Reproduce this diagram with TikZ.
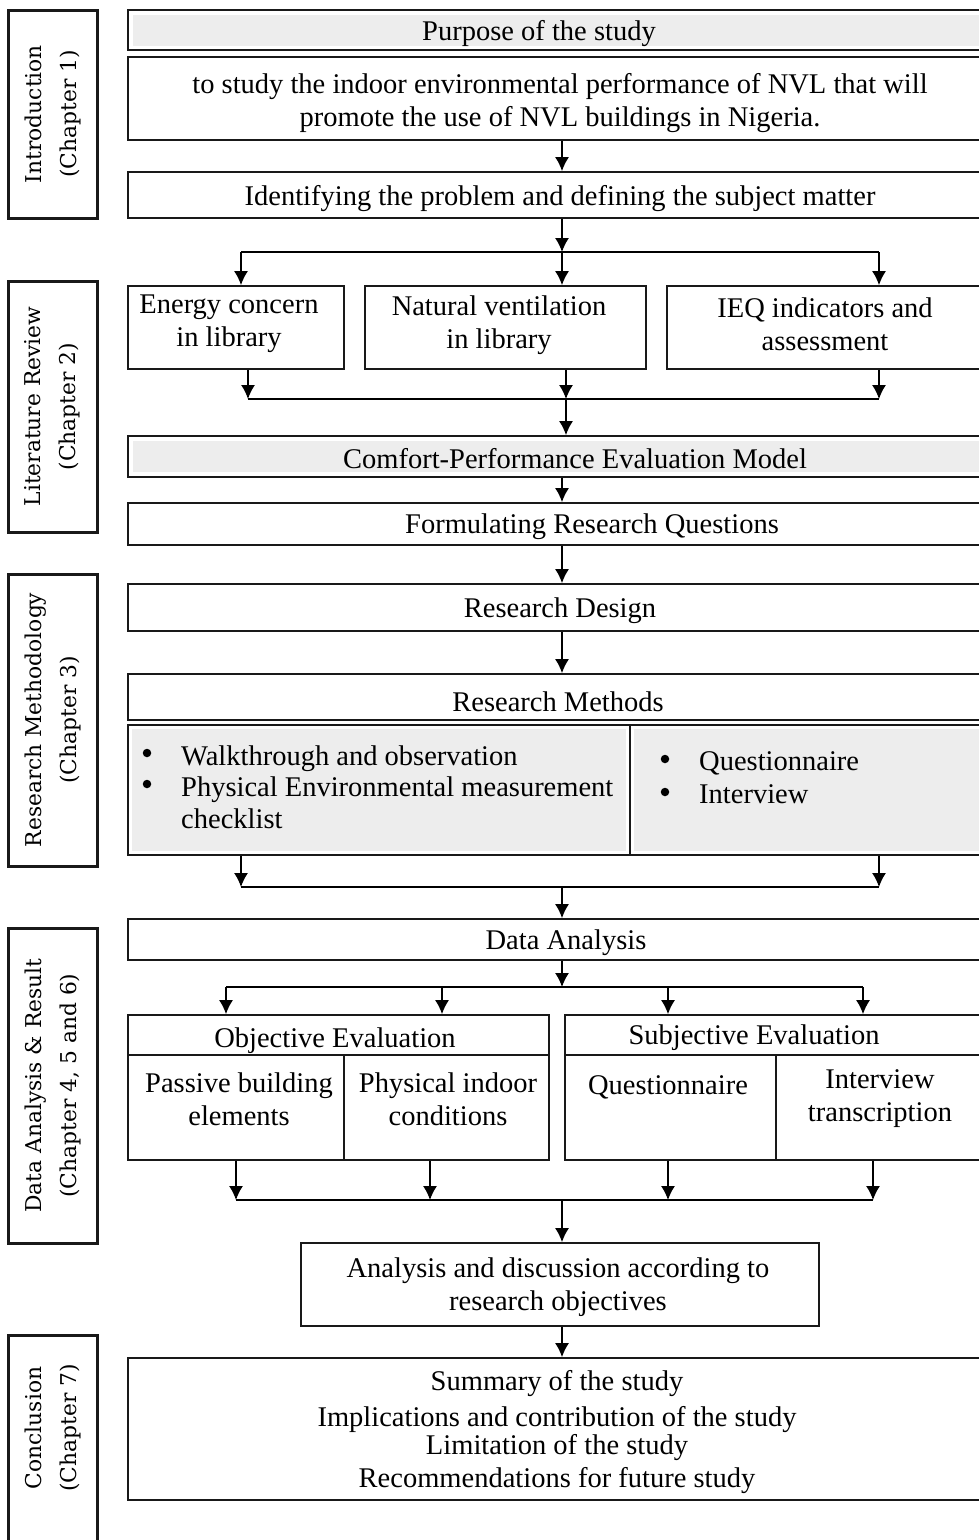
\documentclass[tikz,border=0pt]{standalone}
\usepackage{fontspec}
\setmainfont{Liberation Serif}
\newfontfamily\sidefont{DejaVu Serif}
\usetikzlibrary{arrows.meta,calc}
\begin{document}
\begin{tikzpicture}[x=1pt,y=-1pt,
  box/.style={draw=black!90, line width=1.8pt, inner sep=0pt, rectangle},
  sidebox/.style={draw=black!90, line width=3pt, inner sep=0pt, rectangle, minimum width=89},
  sidetxt/.style={rotate=90, font=\sidefont\fontsize{21.8}{35}\selectfont, align=center, inner sep=0pt},
  txt/.style={font=\fontsize{28.5}{33}\selectfont, align=center, inner sep=0pt, yshift=-3pt},
  bul/.style={circle, fill=black, inner sep=0pt, minimum size=8.5pt},
  arr/.style={line width=1.4pt, -{Latex[length=14pt,width=14pt]}},
  ln/.style={line width=1.4pt},
  band/.style={fill=black!7, draw=none}]
\useasboundingbox (0,0) rectangle (979,1540);
\clip (0,0) rectangle (979,1540);
\fill[white] (0,0) rectangle (979,1540);

% side boxes
\node[sidebox, minimum height=208] (intro) at (52.5,114) {};
\node[sidebox, minimum height=251] (lit) at (52.5,406.5) {};
\node[sidebox, minimum height=292] (meth) at (52.5,720) {};
\node[sidebox, minimum height=315] (data) at (52.5,1085.5) {};
\node[sidebox, minimum height=225] (concl) at (52.5,1447.5) {};
\node[sidetxt] (introT) at (intro.center) {Introduction\\(Chapter 1)};
\node[sidetxt] (litT) at (lit.center) {Literature Review\\(Chapter 2)};
\node[sidetxt] (methT) at (meth.center) {Research Methodology\\(Chapter 3)};
\node[sidetxt] (dataT) at (data.center) {Data Analysis \& Result\\(Chapter 4, 5 and 6)};
\node[sidetxt] (conclT) at (52.5,1428) {Conclusion\\(Chapter 7)};

% main boxes
\node[box, minimum width=864, minimum height=40] (purpose) at (560,30) {};
\fill[band] ($(purpose.north west)+(6,6)$) rectangle ($(purpose.south east)+(-6,-5)$);
\node[txt] (purposeT) at (539,31) {Purpose of the study};

\node[box, minimum width=864, minimum height=83] (p2) at (560,98.5) {};
\node[txt] (p2T) at (560,100) {to study the indoor environmental performance of NVL that will\\promote the use of NVL buildings in Nigeria.};

\node[box, minimum width=864, minimum height=46] (ident) at (560,195) {};
\node[txt] (identT) at (560,196) {Identifying the problem and defining the subject matter};

\node[box, minimum width=216, minimum height=83] (energy) at (236,327.5) {};
\node[txt] (energyT) at (229,321) {Energy concern\\in library};
\node[box, minimum width=281, minimum height=83] (natvent) at (505.5,327.5) {};
\node[txt] (natventT) at (499,322) {Natural ventilation\\in library};
\node[box, minimum width=325, minimum height=83] (ieq) at (829.5,327.5) {};
\node[txt] (ieqT) at (825,321) {IEQ indicators and\\assessment};

\node[box, minimum width=864, minimum height=41] (comfort) at (560,456.5) {};
\fill[band] ($(comfort.north west)+(6,6)$) rectangle ($(comfort.south east)+(-6,-6)$);
\node[txt] (comfortT) at (575,456) {Comfort-Performance Evaluation Model};

\node[box, minimum width=864, minimum height=42] (formq) at (560,524) {};
\node[txt] (formqT) at (592,524) {Formulating Research Questions};

\node[box, minimum width=864, minimum height=47] (design) at (560,607.5) {};
\node[txt] (designT) at (560,608) {Research Design};

\node[box, minimum width=864, minimum height=46] (methods) at (560,697) {};
\node[txt] (methodsT) at (558,699) {Research Methods};

\node[box, minimum width=502, minimum height=130] (methL) at (379,790) {};
\node[box, minimum width=362, minimum height=130] (methR) at (811,790) {};
\fill[band] ($(methL.north west)+(5,5)$) rectangle ($(methL.south east)+(-5,-5)$);
\fill[band] ($(methR.north west)+(5,5)$) rectangle ($(methR.south east)+(-5,-5)$);
\node[txt, align=left, anchor=west, font=\fontsize{28.5}{31.5}\selectfont] (methLT) at (181,784) {Walkthrough and observation\\Physical Environmental measurement\\checklist};
\node[txt, align=left, anchor=west, font=\fontsize{28.5}{33}\selectfont] (methRT) at (699,775) {Questionnaire\\Interview};
\node[bul] (bL1) at (147,753) {};
\node[bul] (bL2) at (147,784) {};
\node[bul] (bR1) at (665,759) {};
\node[bul] (bR2) at (665,792) {};

\node[box, minimum width=864, minimum height=41] (dataA) at (560,939.5) {};
\node[txt] (dataAT) at (566,940) {Data Analysis};

\node[box, minimum width=421, minimum height=40] (objH) at (338.5,1035) {};
\node[box, minimum width=216, minimum height=105] (objA) at (236,1107.5) {};
\node[box, minimum width=205, minimum height=105] (objB) at (446.5,1107.5) {};
\node[box, minimum width=427, minimum height=40] (subjH) at (778.5,1035) {};
\node[box, minimum width=211, minimum height=105] (subjA) at (670.5,1107.5) {};
\node[box, minimum width=216, minimum height=105] (subjB) at (884,1107.5) {};
\node[txt] (objHT) at (335,1038) {Objective Evaluation};
\node[txt] (subjHT) at (754,1035) {Subjective Evaluation};
\node[txt] (objAT) at (239,1096) {Passive building\\elements};
\node[txt] (objBT) at (448,1096) {Physical indoor\\conditions};
\node[txt] (subjAT) at (668,1084) {Questionnaire};
\node[txt] (subjBT) at (880,1096) {Interview\\transcription};

\node[box, minimum width=518, minimum height=83] (anal) at (560,1284.5) {};
\node[txt] (analT) at (558,1284) {Analysis and discussion according to\\research objectives};

\node[box, minimum width=864, minimum height=142] (fin) at (560,1429) {};
\node[txt] (fin1) at (557,1381) {Summary of the study};
\node[txt] (fin2) at (557,1417) {Implications and contribution of the study};
\node[txt] (fin3) at (557,1445) {Limitation of the study};
\node[txt] (fin4) at (557,1478) {Recommendations for future study};

% connectors
\coordinate (c1) at (562,0);
\draw[arr] (p2.south -| c1) -- (ident.north -| c1);

\coordinate (br1L) at (241,252);
\coordinate (br1M) at (562,252);
\coordinate (br1R) at (879,252);
\draw[arr] (ident.south -| br1M) -- (br1M);
\draw[ln] (br1L) -- (br1R);
\draw[arr] (br1L) -- (energy.north -| br1L);
\draw[arr] (br1M) -- (natvent.north -| br1M);
\draw[arr] (br1R) -- (ieq.north -| br1R);

\coordinate (mg1L) at (248,399);
\coordinate (mg1M) at (566,399);
\coordinate (mg1R) at (879,399);
\draw[arr] (energy.south -| mg1L) -- (mg1L);
\draw[arr] (natvent.south -| mg1M) -- (mg1M);
\draw[arr] (ieq.south -| mg1R) -- (mg1R);
\draw[ln] (mg1L) -- (mg1R);
\draw[arr] (mg1M) -- (comfort.north -| mg1M);

\draw[arr] (comfort.south -| c1) -- (formq.north -| c1);
\draw[arr] (formq.south -| c1) -- (design.north -| c1);
\draw[arr] (design.south -| c1) -- (methods.north -| c1);

\coordinate (mg2L) at (241,887);
\coordinate (mg2M) at (562,887);
\coordinate (mg2R) at (879,887);
\draw[arr] (methL.south -| mg2L) -- (mg2L);
\draw[arr] (methR.south -| mg2R) -- (mg2R);
\draw[ln] (mg2L) -- (mg2R);
\draw[arr] (mg2M) -- (dataA.north -| mg2M);

\coordinate (br2L) at (226,987);
\coordinate (br2A) at (442,987);
\coordinate (br2M) at (562,987);
\coordinate (br2B) at (668,987);
\coordinate (br2R) at (863,987);
\draw[arr] (dataA.south -| br2M) -- (br2M);
\draw[ln] (br2L) -- (br2R);
\draw[arr] (br2L) -- (objH.north -| br2L);
\draw[arr] (br2A) -- (objH.north -| br2A);
\draw[arr] (br2B) -- (subjH.north -| br2B);
\draw[arr] (br2R) -- (subjH.north -| br2R);

\coordinate (mg3a) at (236,1200);
\coordinate (mg3b) at (430,1200);
\coordinate (mg3M) at (562,1200);
\coordinate (mg3c) at (668,1200);
\coordinate (mg3d) at (873,1200);
\draw[arr] (objA.south -| mg3a) -- (mg3a);
\draw[arr] (objB.south -| mg3b) -- (mg3b);
\draw[arr] (subjA.south -| mg3c) -- (mg3c);
\draw[arr] (subjB.south -| mg3d) -- (mg3d);
\draw[ln] (mg3a) -- (mg3d);
\draw[arr] (mg3M) -- (anal.north -| mg3M);

\draw[arr] (anal.south -| c1) -- (fin.north -| c1);
\end{tikzpicture}
\end{document}
